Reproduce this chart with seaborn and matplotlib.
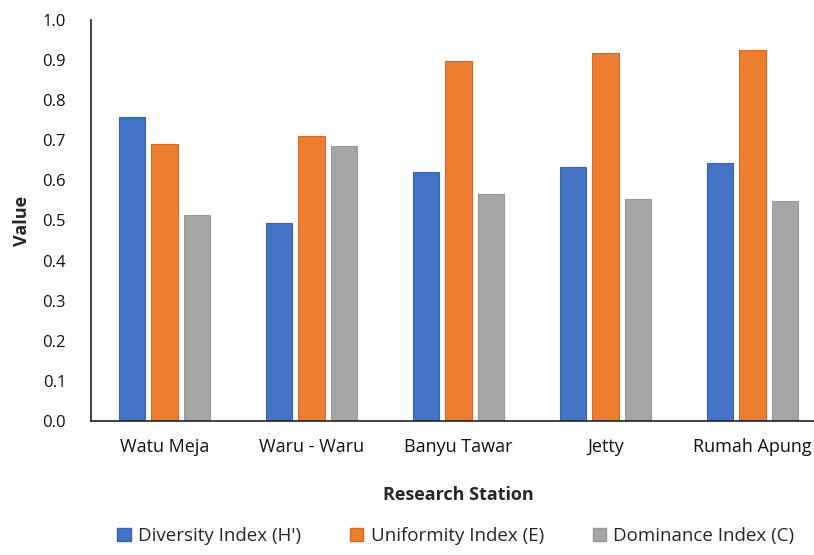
import pandas as pd
import numpy as np
from matplotlib import pyplot as plt
import seaborn as sns

stations = ["Watu Meja", "Waru - Waru", "Banyu Tawar", "Jetty", "Rumah Apung"]
diversity = [0.758, 0.494, 0.622, 0.634, 0.643]
uniformity = [0.690, 0.711, 0.897, 0.917, 0.925]
dominance = [0.514, 0.686, 0.565, 0.554, 0.549]
index_names = ["Diversity Index (H')", "Uniformity Index (E)", "Dominance Index (C)"]
colors = ["#4472C4", "#ED7D31", "#A5A5A5"]
edges = ["#3A63AE", "#D46A22", "#999999"]

sns.set_style("white")
plt.rcParams['font.family'] = ['Open Sans', 'DejaVu Sans']

df = pd.DataFrame({
    "station": stations * 3,
    "index": np.repeat(index_names, len(stations)),
    "value": diversity + uniformity + dominance,
})

fig = plt.figure(figsize=(8.14, 5.55), dpi=100)
ax = fig.add_axes([91 / 814, 134 / 555, 735 / 814, 401 / 555])

sns.barplot(data=df, x="station", y="value", hue="index", palette=colors,
            saturation=1, width=0.667, gap=0.2, ax=ax, legend=False)
for p, c in zip(ax.patches, np.repeat(edges, len(stations))):
    p.set_edgecolor(c)
    p.set_linewidth(0.8)

ax.set_ylim(0, 1.0)
ax.set_xlim(-0.5, 4.5)
ax.set_yticks(np.arange(0, 1.01, 0.1))
ax.set_yticklabels([f"{v:.1f}" for v in np.arange(0, 1.01, 0.1)])
ax.tick_params(axis="both", length=0, colors="#111111")
ax.tick_params(axis="x", pad=12, labelsize=13)
ax.tick_params(axis="y", pad=18, labelsize=12)
ax.set_xlabel("Research Station", fontsize=13, fontweight="bold", labelpad=22)
ax.set_ylabel("Value", fontsize=13, fontweight="bold", labelpad=8)
sns.despine(ax=ax)
for s in ["left", "bottom"]:
    ax.spines[s].set_color("#222222")
    ax.spines[s].set_linewidth(1.2)

handles = [plt.Rectangle((0, 0), 1, 1, facecolor=c, edgecolor=e) for c, e in zip(colors, edges)]
fig.legend(handles, index_names, loc="lower center", bbox_to_anchor=(0.56, -0.012),
           ncol=3, frameon=False, fontsize=13.5, handlelength=0.7, handleheight=0.7,
           handletextpad=0.4, columnspacing=2.6)

fig.savefig("out.png", dpi=100)
